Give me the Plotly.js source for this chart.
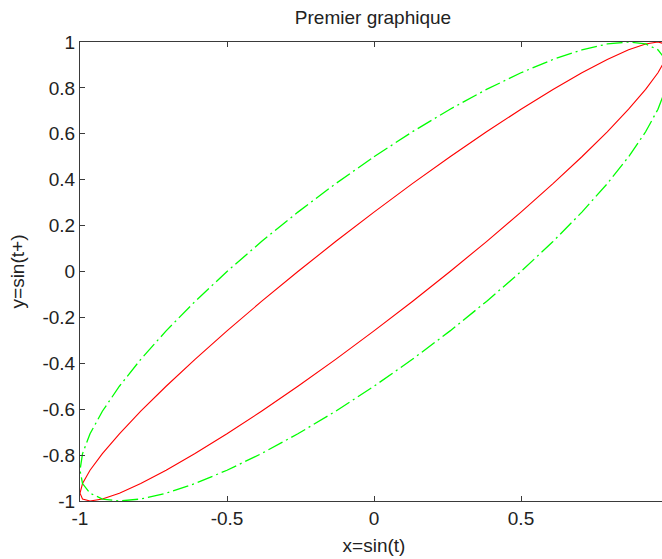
<!DOCTYPE html>
<html>
<head>
<meta charset="utf-8">
<script src="https://cdn.plot.ly/plotly-3.0.1.min.js"></script>
<style>
html, body { margin: 0; padding: 0; overflow: hidden; background: #fff; }
#chart { width: 700px; height: 559px; }
</style>
</head>
<body>
<div id="chart"></div>
<script>
// x = sin(t) samples (shared by both curves)
var xVals = [0, 0.1305, 0.2588, 0.3827, 0.5, 0.6088, 0.7071, 0.7934, 0.8660, 0.9239, 0.9659, 0.9914, 1,
  0.9914, 0.9659, 0.9239, 0.8660, 0.7934, 0.7071, 0.6088, 0.5, 0.3827, 0.2588, 0.1305, 0,
  -0.1305, -0.2588, -0.3827, -0.5, -0.6088, -0.7071, -0.7934, -0.8660, -0.9239, -0.9659, -0.9914, -1,
  -0.9914, -0.9659, -0.9239, -0.8660, -0.7934, -0.7071, -0.6088, -0.5, -0.3827, -0.2588, -0.1305, 0];

// red curve y values
var yRed = [0.2588, 0.3827, 0.5, 0.6088, 0.7071, 0.7934, 0.8660, 0.9239, 0.9659, 0.9914, 1,
  0.9914, 0.9659, 0.9239, 0.8660, 0.7934, 0.7071, 0.6088, 0.5, 0.3827, 0.2588, 0.1305, 0,
  -0.1305, -0.2588, -0.3827, -0.5, -0.6088, -0.7071, -0.7934, -0.8660, -0.9239, -0.9659, -0.9914, -1,
  -0.9914, -0.9659, -0.9239, -0.8660, -0.7934, -0.7071, -0.6088, -0.5, -0.3827, -0.2588, -0.1305, 0,
  0.1305, 0.2588];

// green curve y values
var yGreen = [0.5, 0.6088, 0.7071, 0.7934, 0.8660, 0.9239, 0.9659, 0.9914, 1,
  0.9914, 0.9659, 0.9239, 0.8660, 0.7934, 0.7071, 0.6088, 0.5, 0.3827, 0.2588, 0.1305, 0,
  -0.1305, -0.2588, -0.3827, -0.5, -0.6088, -0.7071, -0.7934, -0.8660, -0.9239, -0.9659, -0.9914, -1,
  -0.9914, -0.9659, -0.9239, -0.8660, -0.7934, -0.7071, -0.6088, -0.5, -0.3827, -0.2588, -0.1305, 0,
  0.1305, 0.2588, 0.3827, 0.5];

var xTickVals = [-1, -0.5, 0, 0.5, 1];
var xTickText = ["-1", "-0.5", "0", "0.5", ""];
var yTickVals = [-1, -0.8, -0.6, -0.4, -0.2, 0, 0.2, 0.4, 0.6, 0.8, 1];
var yTickText = ["-1", "-0.8", "-0.6", "-0.4", "-0.2", "0", "0.2", "0.4", "0.6", "0.8", "1"];

var fontFam = "Liberation Sans, Arial, sans-serif";
var fontSize = 19;

var traces = [
  { x: xVals, y: yRed, type: "scatter", mode: "lines",
    line: { color: "#ff0000", width: 1.1 }, showlegend: false, hoverinfo: "skip" },
  { x: xVals, y: yGreen, type: "scatter", mode: "lines",
    line: { color: "#00ff00", width: 1.3, dash: "16px,4px,2px,4px" }, showlegend: false, hoverinfo: "skip" }
];

var axisCommon = {
  showgrid: false, zeroline: false, showline: true, mirror: "ticks",
  linecolor: "#3a3a3a", linewidth: 1, ticks: "inside", ticklen: 5, tickwidth: 1, tickcolor: "#3a3a3a",
  tickfont: { family: fontFam, size: fontSize, color: "#222" }, automargin: false, fixedrange: true
};

var layout = {
  width: 700, height: 559,
  margin: { l: 80, r: 32, t: 42, b: 58 },
  paper_bgcolor: "#fff", plot_bgcolor: "#fff",
  title: { text: "Premier graphique", font: { family: fontFam, size: fontSize, color: "#222" },
           x: 373 / 700, xanchor: "center", xref: "container", y: 1 - 17 / 559, yanchor: "middle", yref: "container" },
  xaxis: Object.assign({}, axisCommon, {
    range: [-1, 1], tickvals: xTickVals, ticktext: xTickText,
    title: { text: "x=sin(t)", font: { family: fontFam, size: fontSize, color: "#222" }, standoff: 10 }
  }),
  yaxis: Object.assign({}, axisCommon, {
    range: [-1, 1], tickvals: yTickVals, ticktext: yTickText,
    title: { text: "y=sin(t+)", font: { family: fontFam, size: fontSize, color: "#222" }, standoff: 12 }
  })
};

Plotly.newPlot("chart", traces, layout, { displayModeBar: false, staticPlot: true });
</script>
</body>
</html>
